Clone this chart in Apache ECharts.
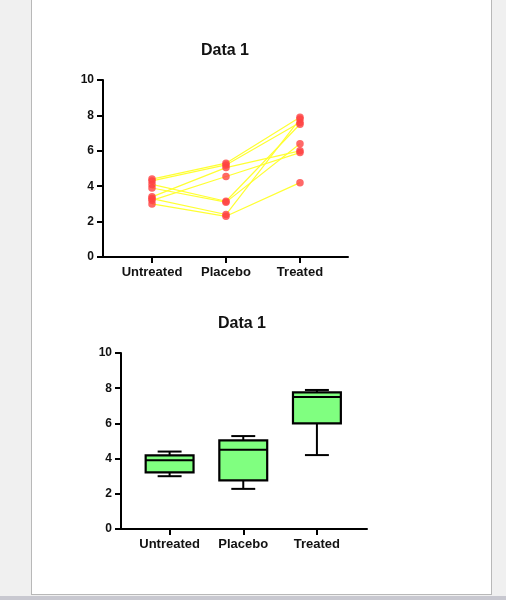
<!DOCTYPE html>
<html>
<head>
<meta charset="utf-8">
<script src="https://cdn.jsdelivr.net/npm/echarts@6/dist/echarts.min.js"></script>
<style>
  html, body { margin: 0; padding: 0; width: 506px; height: 600px; background: #f0f0f0; overflow: hidden; }
  #panel { position: absolute; left: 31px; top: -1px; width: 459px; height: 594px; background: #ffffff; border: 1px solid #b8b8b8; }
  #strip { position: absolute; left: 0; top: 596px; width: 506px; height: 4px; background: #c8c8d0; }
  #chart { position: absolute; left: 0; top: 0; width: 506px; height: 600px; }
</style>
</head>
<body>
<div id="panel"></div>
<div id="strip"></div>
<div id="chart"></div>
<script>
// ---- data ----
const categories = ['Untreated', 'Placebo', 'Treated'];
const title = 'Data 1';
// paired values per subject (top chart)
const untreated = [4.4, 4.3, 3.4, 3.2, 4.1, 3.9, 3.3, 3.0];
const placebo   = [5.3, 5.2, 5.05, 4.55, 3.15, 3.1, 2.4, 2.3];
const treated   = [7.9, 7.6, 6.0, 5.9, 7.5, 6.4, 7.8, 4.2];
// box plot statistics (bottom chart), one entry per category
const boxMin    = [3.0, 2.28, 4.2];
const boxQ1     = [3.22, 2.76, 6.0];
const boxMedian = [3.9, 4.5, 7.5];
const boxQ3     = [4.18, 5.04, 7.76];
const boxMax    = [4.4, 5.28, 7.9];
// value axis
const yMin = 0, yMax = 10, yInterval = 2;

// ---- chart ----
const FONT = 'Liberation Sans, Arial, sans-serif';
const chart = echarts.init(document.getElementById('chart'), null, { renderer: 'canvas' });
const catIdx = categories.map((c, i) => i);

function xAxisFor(grid, min, max) {
  return {
    type: 'value', gridIndex: grid, min: min, max: max,
    axisLine: { show: true, onZero: false, lineStyle: { color: '#000', width: 2 } },
    axisTick: { show: true, customValues: catIdx, length: 6, lineStyle: { color: '#000', width: 2 } },
    axisLabel: { show: true, customValues: catIdx, margin: 9, color: '#111', fontSize: 13, fontWeight: 'bold', fontFamily: FONT,
      formatter: v => categories[Math.round(v)] },
    splitLine: { show: false }
  };
}
function yAxisFor(grid) {
  return {
    type: 'value', gridIndex: grid, min: yMin, max: yMax, interval: yInterval,
    axisLine: { show: true, onZero: false, lineStyle: { color: '#000', width: 2 } },
    axisTick: { show: true, length: 6, lineStyle: { color: '#000', width: 2 } },
    axisLabel: { margin: 9, color: '#111', fontSize: 12, fontWeight: 'bold', fontFamily: FONT },
    splitLine: { show: false }
  };
}

const lineSeries = untreated.map((u, i) => ({
  type: 'line', xAxisIndex: 0, yAxisIndex: 0, silent: true, z: 2,
  data: [[0, u], [1, placebo[i]], [2, treated[i]]],
  symbol: 'none', animation: false,
  lineStyle: { color: '#FFFF33', width: 1.2 }
}));
const dots = [];
[untreated, placebo, treated].forEach((arr, ci) => arr.forEach(v => dots.push([ci, v])));

const boxData = catIdx.map(i => [i, boxMin[i], boxQ1[i], boxMedian[i], boxQ3[i], boxMax[i]]);

chart.setOption({
  animation: false,
  backgroundColor: 'transparent',
  graphic: [
    { type: 'text', x: 225, y: 51, style: { text: title, textAlign: 'center', textVerticalAlign: 'middle', font: 'bold 16px ' + FONT, fill: '#111' } },
    { type: 'text', x: 242, y: 324, style: { text: title, textAlign: 'center', textVerticalAlign: 'middle', font: 'bold 16px ' + FONT, fill: '#111' } }
  ],
  grid: [
    { left: 103, top: 80, width: 245, height: 177 },
    { left: 121, top: 353, width: 246, height: 176 }
  ],
  xAxis: [xAxisFor(0, -0.662, 2.649), xAxisFor(1, -0.66, 2.68)],
  yAxis: [yAxisFor(0), yAxisFor(1)],
  series: lineSeries.concat([
    {
      type: 'scatter', xAxisIndex: 0, yAxisIndex: 0, silent: true, z: 3,
      data: dots, symbolSize: 7.5, itemStyle: { color: '#FF4242' }
    },
    {
      type: 'custom', xAxisIndex: 1, yAxisIndex: 1, silent: true, z: 3,
      data: boxData,
      renderItem: function (params, api) {
        const x = api.value(0);
        const pMin = api.coord([x, api.value(1)]);
        const pQ1 = api.coord([x, api.value(2)]);
        const pMed = api.coord([x, api.value(3)]);
        const pQ3 = api.coord([x, api.value(4)]);
        const pMax = api.coord([x, api.value(5)]);
        const unit = api.size([1, 0])[0];
        const bw = unit * 0.65, cw = bw / 2;
        const cx = pMed[0];
        const st = { stroke: '#000', lineWidth: 2 };
        return {
          type: 'group',
          children: [
            { type: 'line', shape: { x1: cx, y1: pQ3[1], x2: cx, y2: pMax[1] }, style: st },
            { type: 'line', shape: { x1: cx, y1: pQ1[1], x2: cx, y2: pMin[1] }, style: st },
            { type: 'line', shape: { x1: cx - cw / 2, y1: pMax[1], x2: cx + cw / 2, y2: pMax[1] }, style: st },
            { type: 'line', shape: { x1: cx - cw / 2, y1: pMin[1], x2: cx + cw / 2, y2: pMin[1] }, style: st },
            { type: 'rect', shape: { x: cx - bw / 2, y: pQ3[1], width: bw, height: pQ1[1] - pQ3[1] },
              style: { fill: '#80FF80', stroke: '#000', lineWidth: 2.2 } },
            { type: 'line', shape: { x1: cx - bw / 2, y1: pMed[1], x2: cx + bw / 2, y2: pMed[1] }, style: st }
          ]
        };
      }
    }
  ])
});
</script>
</body>
</html>
